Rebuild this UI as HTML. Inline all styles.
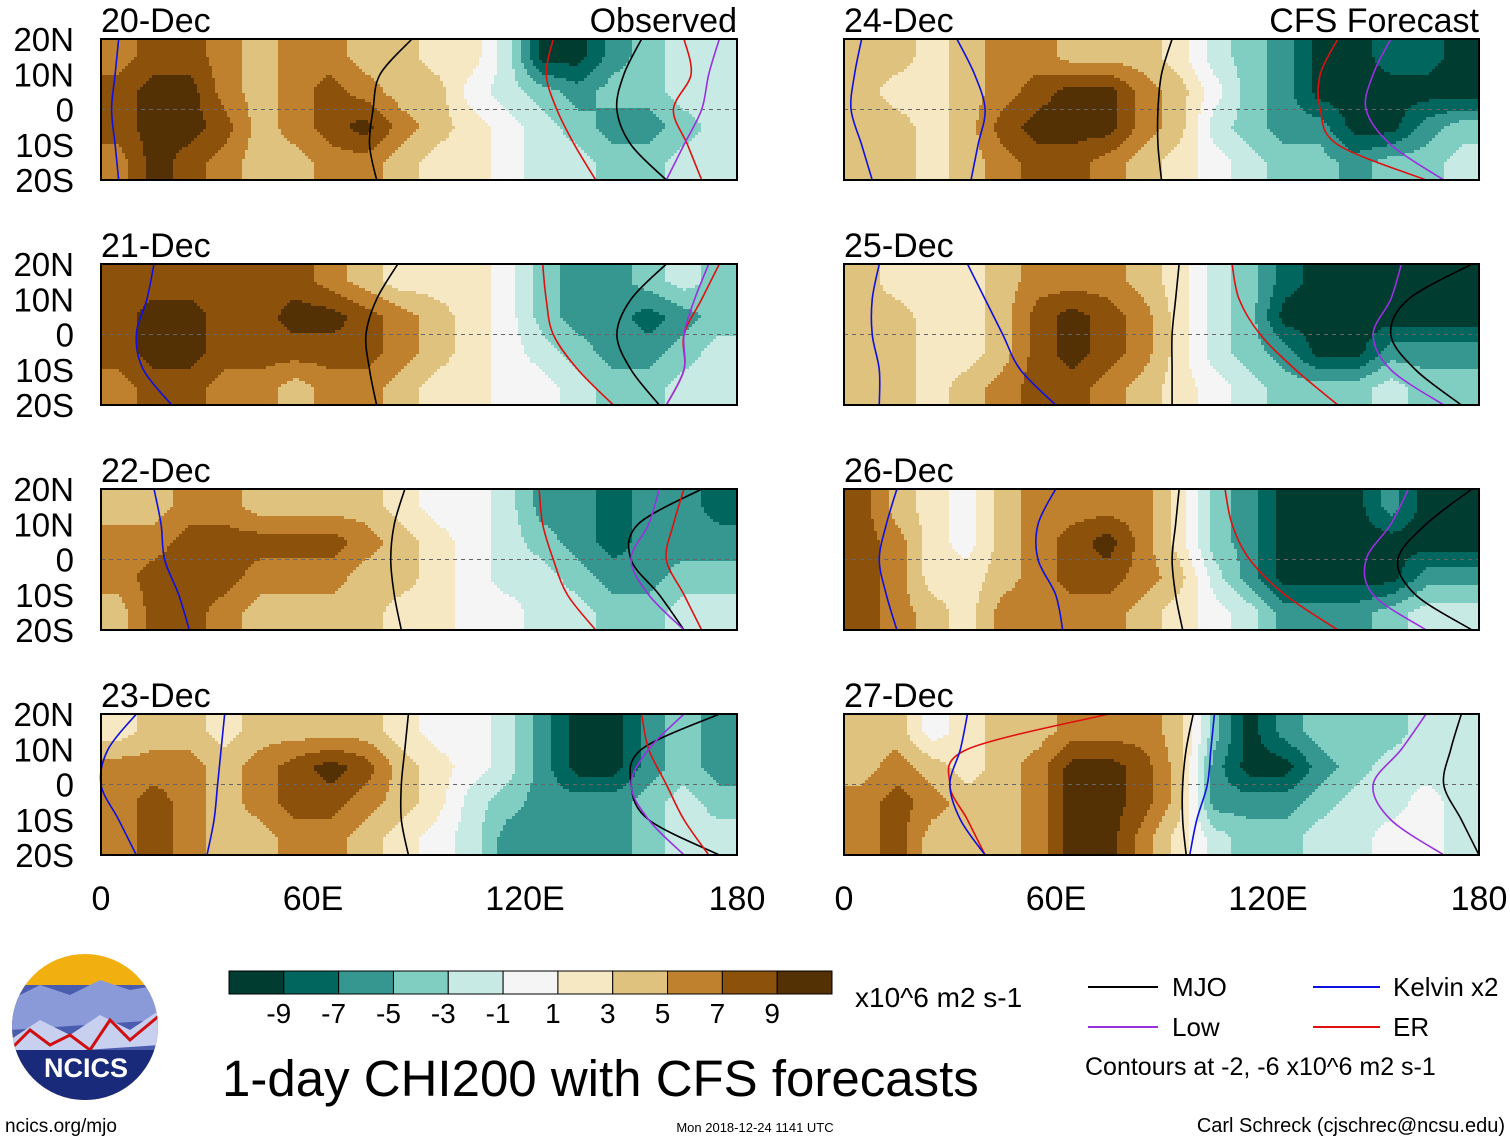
<!DOCTYPE html>
<html><head><meta charset="utf-8"><style>
body{margin:0;background:#fff;width:1510px;height:1142px;overflow:hidden;font-family:"Liberation Sans",sans-serif}
svg text{font-family:"Liberation Sans",sans-serif}
</style></head><body>
<svg id="fig" width="1510" height="1142" viewBox="0 0 1510 1142" xmlns="http://www.w3.org/2000/svg">
<g id="panels"></g>
<g font-size="34" text-anchor="middle">
<text x="101" y="910">0</text><text x="313" y="910">60E</text><text x="525" y="910">120E</text><text x="737" y="910">180</text></g>
<g font-size="34" text-anchor="middle">
<text x="844" y="910">0</text><text x="1056" y="910">60E</text><text x="1268" y="910">120E</text><text x="1479" y="910">180</text></g>
<g>
<defs><clipPath id="lc"><circle cx="85" cy="1027" r="73"/></clipPath></defs>
<circle cx="85" cy="1027" r="73" fill="#f2b010"/>
<g clip-path="url(#lc)">
<rect x="10" y="985" width="150" height="120" fill="#4a5cae"/>
<path d="M10 1000 L40 985 L70 995 L100 980 L130 990 L160 985 L160 1020 L10 1030Z" fill="#8a9ad8"/>
<path d="M10 1040 L40 1020 L70 1035 L100 1015 L130 1030 L160 1010 L160 1045 L10 1055Z" fill="#c8d0f0"/>
<path d="M10 1050 L30 1030 L50 1045 L70 1035 L90 1050 L110 1020 L130 1040 L160 1015" stroke="#d01010" stroke-width="3" fill="none"/>
<rect x="10" y="1050" width="150" height="60" fill="#1a2a7a"/>
</g>
<text x="86" y="1077" fill="#fff" font-size="27" font-weight="bold" text-anchor="middle">NCICS</text>
</g>
<text x="5" y="1132" font-size="19">ncics.org/mjo</text>
<g id="cbar"></g>
<text x="855" y="1007" font-size="28">x10^6 m2 s-1</text>
<text x="222" y="1096" font-size="51">1-day CHI200 with CFS forecasts</text>
<text x="755" y="1132" font-size="13" text-anchor="middle">Mon 2018-12-24 1141 UTC</text>
<text x="1505" y="1132" font-size="20" text-anchor="end">Carl Schreck (cjschrec@ncsu.edu)</text>
<g font-size="26">
<g><line x1="1088" y1="987" x2="1158" y2="987" stroke="#000" stroke-width="2"/><text x="1172" y="996">MJO</text></g>
<g><line x1="1313" y1="987" x2="1380" y2="987" stroke="#1010e0" stroke-width="2"/><text x="1393" y="996">Kelvin x2</text></g>
<g><line x1="1088" y1="1027" x2="1158" y2="1027" stroke="#9a30e0" stroke-width="2"/><text x="1172" y="1036">Low</text></g>
<g><line x1="1313" y1="1027" x2="1380" y2="1027" stroke="#e01010" stroke-width="2"/><text x="1393" y="1036">ER</text></g>
<text x="1085" y="1075" font-size="25">Contours at -2, -6 x10^6 m2 s-1</text>
</g>
</svg>
<script>
const levels=[-9,-7,-5,-3,-1,1,3,5,7,9];
const colors=["#003c30","#01665e","#35978f","#80cdc1","#c7eae5","#f5f5f5","#f6e8c3","#dfc27d","#bf812d","#8c510a","#543005"];
const dates=["20-Dec","21-Dec","22-Dec","23-Dec","24-Dec","25-Dec","26-Dec","27-Dec"];
const gridLats=[15,5,-5,-15];
const latTicks=["20N","10N","0","10S","20S"];
// values per 10-degree column (0-180E), rows 15N,5N,5S,15S
const chi20=[[6,8,8,6,4,6,6,4,4,2,2,-2,-10,-10,-6,-4,-2,-2],[8,10,10,6,4,6,8,6,4,4,0,-2,-4,-6,-4,-4,-2,-2],[8,10,10,8,4,6,8,10,6,4,2,0,-2,-4,-6,-6,-4,-2],[6,10,8,6,4,4,6,6,4,2,2,0,-2,-2,-4,-4,-2,-2]];
const chi21=[[8,8,8,8,8,8,6,4,2,2,2,0,-4,-6,-6,-4,-2,-4],[8,10,10,8,8,10,10,8,6,4,2,0,-4,-6,-6,-8,-6,-4],[8,10,10,8,8,8,8,8,6,4,2,0,-2,-4,-6,-6,-4,-2],[6,8,8,6,6,4,6,6,4,2,2,0,0,-2,-4,-4,-2,-2]];
const chi22=[[4,4,6,6,4,4,4,4,2,0,0,-2,-6,-6,-8,-6,-6,-8],[6,6,8,8,8,8,8,6,4,2,0,-2,-4,-6,-8,-6,-6,-6],[6,8,8,8,6,6,6,4,4,2,0,-2,-2,-4,-6,-6,-4,-4],[4,8,8,6,4,4,4,4,2,2,0,0,-2,-2,-4,-4,-2,-2]];
const chi23=[[2,4,4,2,4,4,4,4,2,0,0,-2,-6,-10,-10,-6,-4,-6],[6,6,6,4,6,8,10,8,4,2,0,-2,-6,-10,-10,-6,-4,-6],[6,8,6,4,6,8,8,6,4,2,-2,-4,-6,-6,-6,-4,-2,-4],[6,8,6,4,4,6,6,4,2,0,-2,-6,-6,-6,-6,-4,-2,-2]];
const chi24=[[4,4,2,4,6,6,4,4,4,2,-2,-4,-6,-10,-10,-8,-8,-10],[4,2,2,4,6,8,10,10,6,4,0,-4,-6,-10,-10,-10,-10,-10],[4,4,2,4,8,10,10,10,6,4,-2,-4,-6,-6,-10,-10,-6,-4],[4,4,2,4,6,8,8,6,4,2,0,-2,-4,-4,-6,-4,-4,-2]];
const chi25=[[4,2,2,2,4,6,6,6,4,2,-2,-4,-8,-10,-10,-10,-10,-10],[4,4,2,2,4,8,10,8,6,2,-2,-4,-10,-10,-10,-10,-10,-10],[4,4,2,2,4,8,10,8,6,2,-2,-4,-6,-10,-10,-6,-6,-6],[4,4,2,4,6,8,8,6,4,2,0,-2,-4,-4,-4,-2,-4,-4]];
const chi26=[[8,4,2,0,4,6,6,6,6,2,-4,-6,-10,-10,-10,-6,-10,-10],[8,6,2,0,4,6,8,10,6,2,-4,-6,-10,-10,-10,-10,-10,-10],[8,6,2,2,4,6,8,8,6,4,-2,-6,-10,-10,-10,-10,-6,-6],[8,6,4,2,6,6,6,6,4,2,0,-2,-6,-6,-6,-4,-2,-2]];
const chi27=[[4,4,0,2,4,4,6,6,6,4,-4,-10,-6,-4,-4,-4,-2,-2],[4,6,4,2,4,6,10,10,8,4,-6,-10,-10,-6,-4,-2,-2,-2],[6,8,6,4,4,6,10,10,8,4,-6,-6,-6,-4,-2,-2,0,-2],[6,8,4,4,4,6,10,10,6,2,-2,-4,-4,-2,-2,0,0,-2]];
const chiAll=[chi20,chi21,chi22,chi23,chi24,chi25,chi26,chi27];
// contour longitudes at lats 20,10,0,-10,-20
const contourLats=[20,10,0,-10,-20];
const mjo=[[[88,79,77,76,78],[153,148,146,150,160]],[[84,78,75,76,78],[160,150,146,150,158]],[[86,83,82,83,85],[170,152,150,158,165]],[[87,86,85,85,87],[175,153,150,155,175]],[[93,90,89,89,90]],[[95,94,93,93,93],[178,160,155,162,175]],[[95,94,93,94,96],[178,165,157,162,178]],[[99,97,96,96,97],[175,172,170,175,180]]];
const er=[[[128,126,129,134,140],[165,167,162,166,170]],[[125,126,128,135,145],[175,170,165,165,160]],[[124,125,128,132,140],[165,162,160,165,170]],[[153,155,160,165,172]],[[140,135,135,140,165]],[[110,112,118,128,140]],[[108,110,115,125,140]],[[75,35,30,35,40]]];
const kelvin=[[[5,4,3,4,5]],[[15,13,10,12,20]],[[15,17,18,22,25]],[[35,34,33,32,30],[10,2,0,5,10]],[[32,37,40,38,36],[5,3,2,5,8]],[[35,40,45,50,60],[10,8,8,10,10]],[[60,55,55,60,62],[15,12,10,12,15]],[[35,33,30,33,40],[105,104,103,100,98]]];
const low=[[[175,172,170,165,160]],[[172,168,165,165,160]],[[158,155,150,155,165]],[[165,155,150,155,165]],[[155,150,148,155,170]],[[158,155,150,155,170]],[[160,155,148,150,165]],[[165,158,150,155,170]]];

const NS="http://www.w3.org/2000/svg";
const panelsG=document.getElementById('panels');
function colorIdx(v){let i=0;for(const t of levels){if(v>t)i++;}return i;}
function valueAt(data,lon,lat){
  let fx=(lon-5)/10, fy=(15-lat)/10;
  fx=Math.max(0,Math.min(17,fx)); fy=Math.max(0,Math.min(3,fy));
  const x0=Math.floor(fx),y0=Math.floor(fy),x1=Math.min(17,x0+1),y1=Math.min(3,y0+1);
  const tx=fx-x0,ty=fy-y0;
  const a=data[y0][x0]*(1-tx)+data[y0][x1]*tx, b=data[y1][x0]*(1-tx)+data[y1][x1]*tx;
  return a*(1-ty)+b*ty;
}
function smoothPath(pts){
  let d="M"+pts[0][0]+" "+pts[0][1];
  for(let i=0;i<pts.length-1;i++){
    const p0=pts[Math.max(0,i-1)],p1=pts[i],p2=pts[i+1],p3=pts[Math.min(pts.length-1,i+2)];
    const c1=[p1[0]+(p2[0]-p0[0])/6,p1[1]+(p2[1]-p0[1])/6],c2=[p2[0]-(p3[0]-p1[0])/6,p2[1]-(p3[1]-p1[1])/6];
    d+=` C${c1[0]} ${c1[1]} ${c2[0]} ${c2[1]} ${p2[0]} ${p2[1]}`;
  }
  return d;
}
const tops=[39,264,489,714];
dates.forEach((date,k)=>{
  const col=k<4?0:1,row=k%4;
  const X0=col?844:101,W=col?635:636,Y0=tops[row],H=141;
  const xs=lon=>X0+lon/180*W, ys=lat=>Y0+(20-lat)/40*H;
  const g=document.createElementNS(NS,'g');
  
  
  panelsG.appendChild(g);
  const data=chiAll[k];
  const cw=3,ch=3;
  for(let py=0;py<H;py+=ch){
    let runStart=0,runC=-1;
    const lat=20-(py+ch/2)/H*40;
    for(let px=0;px<W+cw;px+=cw){
      let c=-2;
      if(px<W){const lon=(px+cw/2)/W*180;c=colorIdx(valueAt(data,lon,lat));}
      if(c!==runC){
        if(runC>=0){
          const r=document.createElementNS(NS,'rect');
          
          
          r.setAttribute('x',X0+runStart);r.setAttribute('y',Y0+py);
          r.setAttribute('width',Math.min(px,W)-runStart+0.5);r.setAttribute('height',Math.min(ch,H-py)+0.5);
          r.setAttribute('fill',colors[runC]);g.appendChild(r);
        }
        runStart=px;runC=c;
      }
    }
  }
  const eq=document.createElementNS(NS,'line');
  
  
  eq.setAttribute('x1',X0);eq.setAttribute('x2',X0+W);eq.setAttribute('y1',ys(0));eq.setAttribute('y2',ys(0));
  eq.setAttribute('stroke','#666');eq.setAttribute('stroke-dasharray','4 4');g.appendChild(eq);
  const sets=[[mjo[k],'#000','mjo-contour'],[er[k],'#e01010','er-contour'],[kelvin[k],'#1010e0','kelvin-contour'],[low[k],'#9a30e0','low-contour']];
  sets.forEach(([lines,clr,nm])=>{lines.forEach(lons=>{
    const p=document.createElementNS(NS,'path');
    
    
    p.setAttribute('d',smoothPath(lons.map((l,i)=>[xs(l),ys(contourLats[i])])));
    p.setAttribute('fill','none');p.setAttribute('stroke',clr);p.setAttribute('stroke-width','1.6');g.appendChild(p);
  });});
  const fr=document.createElementNS(NS,'rect');
  
  
  fr.setAttribute('x',X0);fr.setAttribute('y',Y0);fr.setAttribute('width',W);fr.setAttribute('height',H);
  fr.setAttribute('fill','none');fr.setAttribute('stroke','#000');fr.setAttribute('stroke-width','2');g.appendChild(fr);
  const t=document.createElementNS(NS,'text');
  
  
  t.setAttribute('x',X0);t.setAttribute('y',Y0-7);t.setAttribute('font-size','34');t.textContent=date;g.appendChild(t);
  if(row===0){
    const s=document.createElementNS(NS,'text');
    
    
    s.setAttribute('x',X0+W);s.setAttribute('y',Y0-7);s.setAttribute('font-size','34');s.setAttribute('text-anchor','end');
    s.textContent=col?'CFS Forecast':'Observed';g.appendChild(s);
  }
  if(col===0){
    latTicks.forEach((lt,i)=>{
      const tt=document.createElementNS(NS,'text');
      
      
      tt.setAttribute('x',74);tt.setAttribute('y',Y0+i*H/4+12);tt.setAttribute('font-size','33');tt.setAttribute('text-anchor','end');
      tt.textContent=lt;g.appendChild(tt);
    });
  }
});
const cb=document.getElementById('cbar');
const cbX=229,cbW=603/11;
colors.forEach((c,i)=>{
  const r=document.createElementNS(NS,'rect');
  
  
  r.setAttribute('x',cbX+i*cbW);r.setAttribute('y',971);r.setAttribute('width',cbW);r.setAttribute('height',23);
  r.setAttribute('fill',c);r.setAttribute('stroke','#000');cb.appendChild(r);
});
levels.forEach((lv,i)=>{
  const t=document.createElementNS(NS,'text');
  
  
  t.setAttribute('x',cbX+(i+1)*cbW-5);t.setAttribute('y',1023);t.setAttribute('font-size','28');t.setAttribute('text-anchor','middle');
  t.textContent=lv;cb.appendChild(t);
});
</script>
</body></html>
